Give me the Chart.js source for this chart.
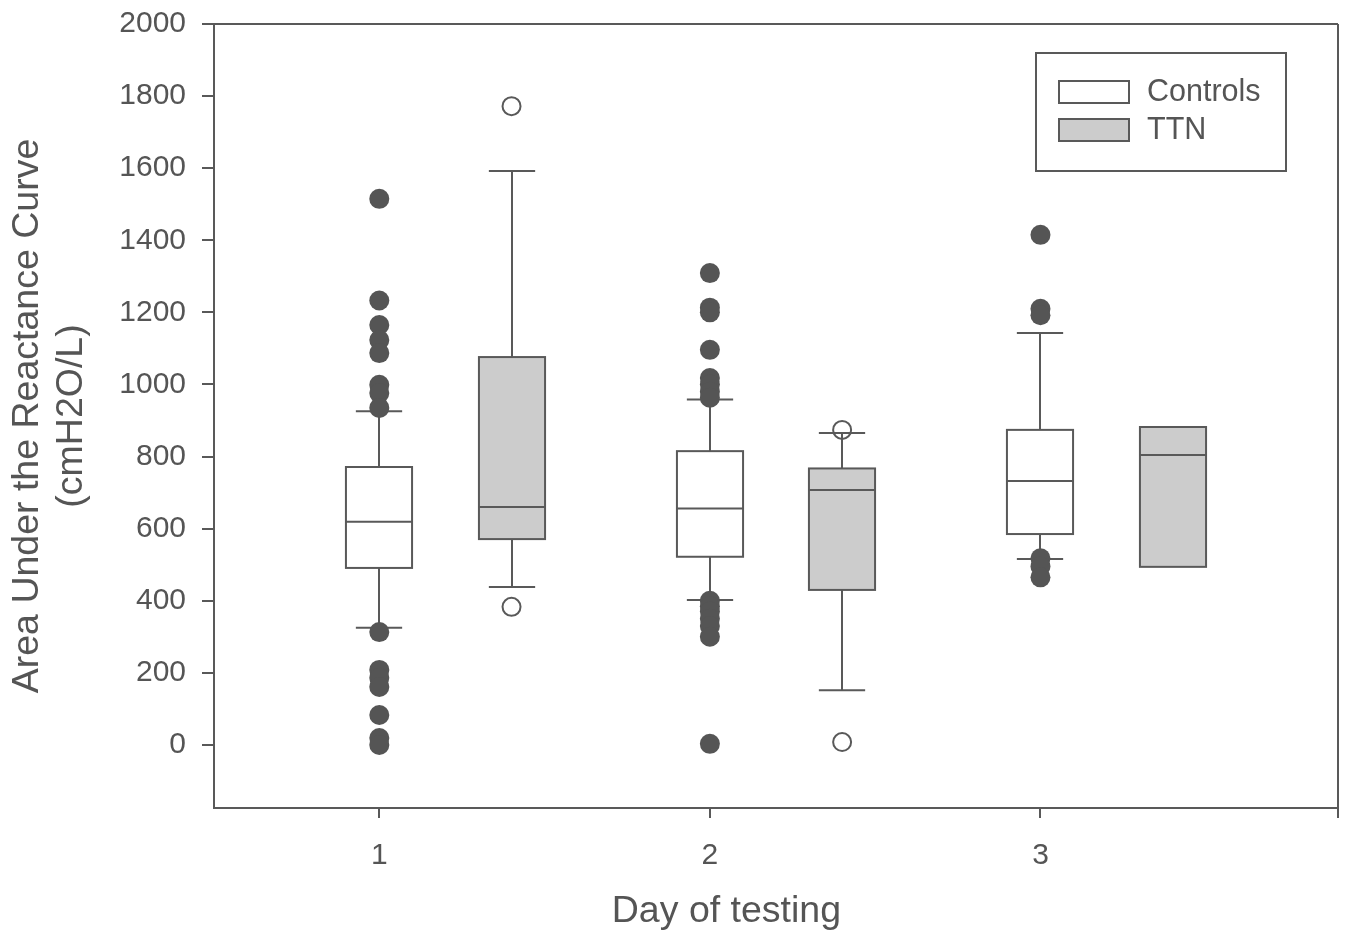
<!DOCTYPE html>
<html>
<head>
<meta charset="utf-8">
<script src="https://cdn.jsdelivr.net/npm/chart.js@4.4.0/dist/chart.umd.min.js"></script>
<style>
html, body { margin: 0; padding: 0; background: #fff; }
#wrap { width: 1350px; height: 938px; }
</style>
</head>
<body>
<div id="wrap"><canvas id="boxChart"></canvas></div>
<script>
var days = [1, 2, 3];
var yTicks = [0, 200, 400, 600, 800, 1000, 1200, 1400, 1600, 1800, 2000];
var seriesNames = ["Controls", "TTN"];
var xTitle = "Day of testing";
var yTitle = ["Area Under the Reactance Curve", "(cmH2O/L)"];

// Controls (white boxes)
var ctrlLow = [325, 402, 516];
var ctrlQ1 = [491, 522, 585];
var ctrlMed = [619, 656, 732];
var ctrlQ3 = [771, 815, 874];
var ctrlHigh = [926, 958, 1143];
var ctrlOutliers = [
    [1515, 1233, 1165, 1123, 1087, 999, 976, 935, 313, 208, 186, 161, 83, 19, 0],
    [1309, 1213, 1200, 1096, 1018, 1000, 980, 963, 400, 385, 370, 350, 330, 300, 3],
    [1415, 1210, 1192, 518, 495, 465]
];

// TTN (grey boxes)
var ttnLow = [438, 152, null];
var ttnQ1 = [571, 430, 494];
var ttnMed = [660, 707, 804];
var ttnQ3 = [1076, 767, 882];
var ttnHigh = [1592, 865, null];
var ttnOutliers = [
    [1772, 383],
    [874, 8],
    []
];

var ttnShift = 0.4;
var boxWidth = 0.2;
var capWidth = 0.14;
var lineCol = "#595959";
var textCol = "#555555";
var ttnFill = "#cccccc";
var fontFam = "'Liberation Sans', Arial, sans-serif";

Chart.defaults.font.family = fontFam;
Chart.defaults.color = textCol;

function outlierPoints(list, shift) {
    var pts = [];
    for (var i = 0; i < days.length; i++) {
        for (var j = 0; j < list[i].length; j++) {
            pts.push({ x: days[i] + shift, y: list[i][j] });
        }
    }
    return pts;
}

var boxPlugin = {
    id: "boxes",
    beforeDatasetsDraw: function (chart) {
        var ctx = chart.ctx;
        var xs = chart.scales.x, ys = chart.scales.y;

        function drawOne(xv, lo, q1, med, q3, hi, fill) {
            var cx = Math.round(xs.getPixelForValue(xv));
            var half = xs.getPixelForValue(xv + boxWidth / 2) - xs.getPixelForValue(xv);
            var capHalf = xs.getPixelForValue(xv + capWidth / 2) - xs.getPixelForValue(xv);
            var yq1 = ys.getPixelForValue(q1), yq3 = ys.getPixelForValue(q3), ym = ys.getPixelForValue(med);
            ctx.save();
            ctx.strokeStyle = lineCol;
            ctx.lineWidth = 2;
            ctx.beginPath();
            if (hi !== null) {
                var yh = ys.getPixelForValue(hi);
                ctx.moveTo(cx, yq3); ctx.lineTo(cx, yh);
                ctx.moveTo(cx - capHalf, yh); ctx.lineTo(cx + capHalf, yh);
            }
            if (lo !== null) {
                var yl = ys.getPixelForValue(lo);
                ctx.moveTo(cx, yq1); ctx.lineTo(cx, yl);
                ctx.moveTo(cx - capHalf, yl); ctx.lineTo(cx + capHalf, yl);
            }
            ctx.stroke();
            ctx.fillStyle = fill;
            ctx.fillRect(cx - half, yq3, half * 2, yq1 - yq3);
            ctx.strokeRect(cx - half, yq3, half * 2, yq1 - yq3);
            ctx.beginPath();
            ctx.moveTo(cx - half, ym); ctx.lineTo(cx + half, ym);
            ctx.stroke();
            ctx.restore();
        }

        for (var i = 0; i < days.length; i++) {
            drawOne(days[i], ctrlLow[i], ctrlQ1[i], ctrlMed[i], ctrlQ3[i], ctrlHigh[i], "#ffffff");
            drawOne(days[i] + ttnShift, ttnLow[i], ttnQ1[i], ttnMed[i], ttnQ3[i], ttnHigh[i], ttnFill);
        }
    },
    afterDraw: function (chart) {
        var ctx = chart.ctx;
        var a = chart.chartArea;
        var xs = chart.scales.x;
        ctx.save();
        ctx.strokeStyle = lineCol;
        ctx.lineWidth = 2;
        // top and right frame lines
        ctx.beginPath();
        ctx.moveTo(a.left, a.top); ctx.lineTo(a.right, a.top);
        ctx.moveTo(a.right, a.top); ctx.lineTo(a.right, a.bottom + 10);
        ctx.stroke();

        // x axis title (sits a bit left of the axis centre in the original)
        ctx.fillStyle = textCol;
        ctx.font = "37.5px " + fontFam;
        ctx.textAlign = "center";
        ctx.textBaseline = "middle";
        ctx.fillText(xTitle, xs.getPixelForValue(2.05), a.bottom + 104);

        // legend box
        var lx = a.right - 302, ly = a.top + 29;
        ctx.strokeRect(lx, ly, 250, 118);
        var fills = ["#ffffff", ttnFill];
        ctx.font = "30.5px " + fontFam;
        ctx.textAlign = "left";
        for (var k = 0; k < seriesNames.length; k++) {
            var sy = ly + 28 + k * 38;
            ctx.fillStyle = fills[k];
            ctx.fillRect(lx + 23, sy, 70, 22);
            ctx.strokeRect(lx + 23, sy, 70, 22);
            ctx.fillStyle = textCol;
            ctx.fillText(seriesNames[k], lx + 111, sy + 12);
        }
        ctx.restore();
    }
};

new Chart(document.getElementById("boxChart"), {
    type: "scatter",
    data: {
        datasets: [{
            label: seriesNames[0],
            data: outlierPoints(ctrlOutliers, 0),
            pointRadius: 10,
            pointBackgroundColor: "#555555",
            pointBorderWidth: 0,
            pointBorderColor: "#555555"
        }, {
            label: seriesNames[1],
            data: outlierPoints(ttnOutliers, ttnShift),
            pointRadius: 9,
            pointBackgroundColor: "rgba(0,0,0,0)",
            pointBorderWidth: 2,
            pointBorderColor: lineCol
        }]
    },
    options: {
        responsive: true,
        maintainAspectRatio: false,
        animation: false,
        layout: { padding: { top: 24, right: 12, left: 0, bottom: 0 } },
        plugins: {
            legend: { display: false },
            tooltip: { enabled: false }
        },
        scales: {
            x: {
                type: "linear",
                min: 0.5,
                max: 3.9,
                afterBuildTicks: function (axis) {
                    axis.ticks = days.map(function (d) { return { value: d }; });
                },
                afterFit: function (scale) {
                    scale.height = 130;
                    scale.paddingLeft = 0;
                    scale.paddingRight = 0;
                },
                grid: { drawOnChartArea: false, drawTicks: true, tickLength: 10, color: lineCol, lineWidth: 2 },
                border: { display: true, color: lineCol, width: 2 },
                ticks: {
                    font: { size: 30 }, color: textCol, padding: 20, maxRotation: 0,
                    callback: function (v) { return String(v); }
                },
                title: { display: false }
            },
            y: {
                min: -175,
                max: 2000,
                afterBuildTicks: function (axis) {
                    axis.ticks = yTicks.map(function (v) { return { value: v }; });
                },
                afterFit: function (scale) {
                    scale.width = 214;
                    scale.paddingTop = 0;
                    scale.paddingBottom = 0;
                },
                grid: { drawOnChartArea: false, drawTicks: true, tickLength: 12, color: lineCol, lineWidth: 2 },
                border: { display: true, color: lineCol, width: 2 },
                ticks: {
                    font: { size: 30 }, color: textCol, padding: 16,
                    callback: function (v) { return String(v); }
                },
                title: {
                    display: true,
                    text: yTitle,
                    font: { size: 37.5, lineHeight: 1.17 },
                    color: textCol,
                    padding: { top: 6, bottom: 0 }
                }
            }
        }
    },
    plugins: [boxPlugin]
});
</script>
</body>
</html>
